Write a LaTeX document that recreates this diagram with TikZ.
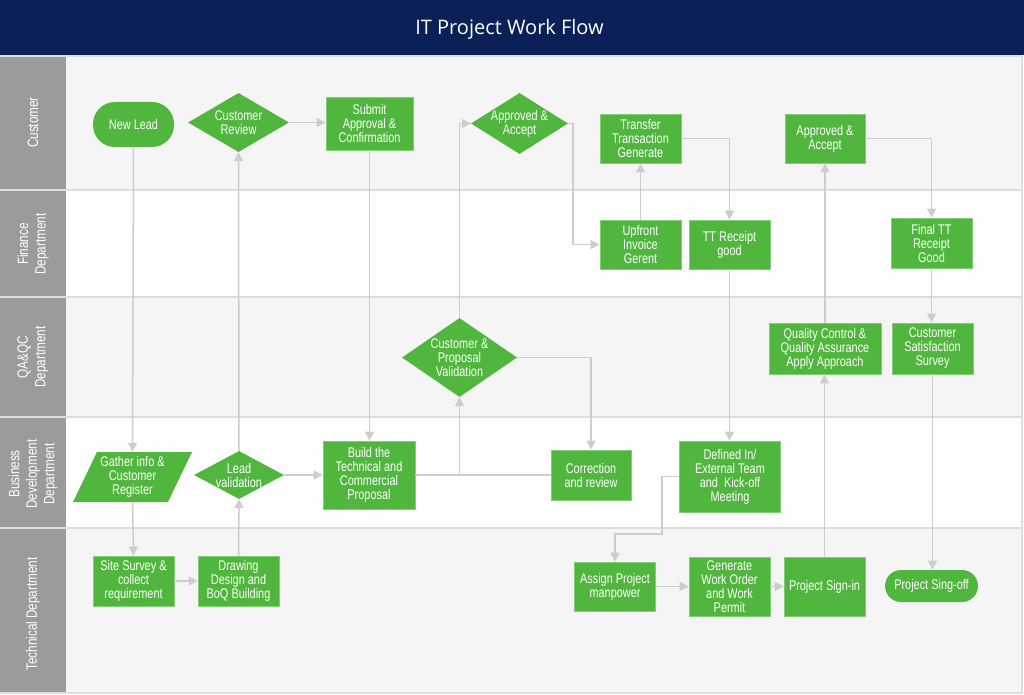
\documentclass[tikz,border=0pt]{standalone}
\usepackage{fontspec}
\setmainfont{Liberation Sans}
\newfontfamily\nodefont[FakeStretch=0.78]{Liberation Sans}
\newfontfamily\titlefont{Open Sans}
\usetikzlibrary{arrows.meta,shapes.geometric,calc}

\definecolor{navy}{RGB}{10,32,87}
\definecolor{flowgreen}{RGB}{80,182,62}
\definecolor{greenedge}{RGB}{130,205,120}
\definecolor{lanegray}{RGB}{155,155,155}
\definecolor{lanebg}{RGB}{245,245,245}
\definecolor{divider}{RGB}{221,221,221}
\definecolor{conn}{RGB}{205,205,205}

\begin{document}
\begin{tikzpicture}[x=1pt,y=-1pt,
  nodetext/.style={text=white, align=center, inner sep=0pt,
    font=\nodefont\fontsize{14}{14}\selectfont},
  box/.style={nodetext, rectangle, fill=flowgreen, draw=greenedge, line width=0.8pt},
  term/.style={box, draw=none, rounded corners=#1},
  dia/.style={diamond, fill=flowgreen, draw=none, inner sep=0pt},
  flow/.style={draw=conn, line width=1.5pt, -{Triangle[length=9pt,width=9pt]}},
  plainline/.style={draw=conn, line width=1.5pt},
  lanelabel/.style={rotate=90, text=white, align=center, inner sep=0pt,
    font=\nodefont\fontsize{15}{17.5}\selectfont},
  divline/.style={draw=divider, line width=2pt}
]
\useasboundingbox (0,0) rectangle (1024,695);
% background
\fill[white] (0,0) rectangle (1024,695);
\fill[navy] (0,0) rectangle (1024,55);
\node[text=white, inner sep=0pt, anchor=base, font=\titlefont\fontsize{20}{24}\selectfont] (title) at (509.5,35) {IT Project Work Flow};
% lanes
\fill[lanebg] (66,56) rectangle (1022,190);
\fill[lanebg] (66,297) rectangle (1022,417);
\fill[lanebg] (66,528) rectangle (1022,693);
\fill[lanegray] (0,56) rectangle (66,693);
\draw[divline] (0,56) -- (1022,56);
\draw[divline] (0,190) -- (1022,190);
\draw[divline] (0,297) -- (1022,297);
\draw[divline] (0,417) -- (1022,417);
\draw[divline] (0,528) -- (1022,528);
\draw[divline] (0,693) -- (1022,693) -- (1022,56);
% lane labels
\node[lanelabel] (l1) at (33,122.5) {Customer};
\node[lanelabel] (l2) at (33,244) {Finance\\Department};
\node[lanelabel] (l3) at (33,357) {QA\&QC\\Department};
\node[lanelabel] (l4) at (33,474) {Business\\Development\\Department};
\node[lanelabel] (l5) at (33,614) {Technical Department};

% Customer lane
\node[term=22pt, minimum width=81pt, minimum height=45pt] (nl) at (133.5,124.5) {New Lead};
\node[dia, minimum width=101pt, minimum height=59pt] (cr) at (238.5,122.5) {};
\node[nodetext] (crT) at (cr) {Customer\\Review};
\node[box, minimum width=87pt, minimum height=53pt] (sa) at (369.5,123.5) {Submit\\Approval \&\\Confirmation};
\node[dia, minimum width=97pt, minimum height=61pt] (aa) at (519.5,123.5) {};
\node[nodetext] (aaT) at (aa) {Approved \&\\Accept};
\node[box, minimum width=81pt, minimum height=49pt] (tt) at (640.5,138.5) {Transfer\\Transaction\\Generate};
\node[box, minimum width=80pt, minimum height=49pt] (ap) at (825,138.5) {Approved \&\\Accept};

% Finance lane
\node[box, minimum width=81pt, minimum height=49pt] (ui) at (640.5,244.5) {Upfront\\Invoice\\Gerent};
\node[box, minimum width=81pt, minimum height=49pt] (tr) at (729.5,244.5) {TT Receipt\\good};
\node[box, minimum width=81pt, minimum height=50pt] (ft) at (931.5,243) {Final TT\\Receipt\\Good};

% QA lane
\node[dia, minimum width=115pt, minimum height=79pt] (cpv) at (459.5,357.5) {};
\node[nodetext] (cpvT) at (cpv) {Customer \&\\Proposal\\Validation};
\node[box, minimum width=112pt, minimum height=51pt] (qc) at (825,348.5) {Quality Control \&\\Quality Assurance\\Apply Approach};
\node[box, minimum width=81pt, minimum height=51pt] (cs) at (932.5,348.5) {Customer\\Satisfaction\\Survey};

% BD lane
\fill[flowgreen] (97,452) -- (192,452) -- (168,502) -- (73,502) -- cycle;
\node[nodetext, minimum width=119pt, minimum height=50pt] (gi) at (132.5,477) {Gather info \&\\Customer\\Register};
\node[dia, minimum width=90pt, minimum height=48pt] (lv) at (239,475) {};
\node[nodetext] (lvT) at (lv) {Lead\\validation};
\node[box, minimum width=92pt, minimum height=68pt] (bp) at (369,475) {Build the\\Technical and\\Commercial\\Proposal};
\node[box, minimum width=80pt, minimum height=50pt] (co) at (591,475) {Correction\\and review};
\node[box, minimum width=101pt, minimum height=71pt] (de) at (730,476.5) {Defined In/\\External Team\\and~ Kick-off\\Meeting};

% Technical lane
\node[box, minimum width=81pt, minimum height=50pt] (ss) at (133.5,581) {Site Survey \&\\collect\\requirement};
\node[box, minimum width=81pt, minimum height=50pt] (dd) at (238.5,581) {Drawing\\Design and\\BoQ Building};
\node[box, minimum width=81pt, minimum height=49pt] (as) at (615,586.5) {Assign Project\\manpower};
\node[box, minimum width=81pt, minimum height=59pt] (gw) at (729.5,586.5) {Generate\\Work Order\\and Work\\Permit};
\node[box, minimum width=81pt, minimum height=59pt] (si) at (824.5,586.5) {Project Sign-in};
\node[term=16pt, minimum width=93pt, minimum height=32pt] (so) at (931.5,586) {Project Sing-off};

% connectors
\draw[flow] (nl.south) -- (gi.north);
\draw[flow] (gi.south) -- (ss.north);
\draw[flow] (ss.east) -- (dd.west);
\draw[flow] (dd.north) -- (lv.south);
\draw[flow] (lv.north) -- (cr.south);
\draw[flow] (cr.east) -- (cr.east -| sa.west);
\draw[flow] (sa.south) -- (sa.south |- bp.north);
\draw[flow] (lv.east) -- (bp.west);
\draw[plainline] (co.west) -- (bp.east);
\draw[flow] (bp.east) -| (cpv.south);
\draw[flow] (cpv.east) -| (co.north);
\draw[flow] (cpv.north) |- (aa.west);
\draw[flow] (aa.east) -- ++(5,0) |- (ui.west);
\draw[flow] (ui.north) -- (tt.south);
\draw[flow] (tt.east) -| (tr.north);
\draw[flow] (tr.south) -- (tr.south |- de.north);
\draw[flow] (de.west) -- ++(-17,0) -- ++(0,57.5) -| (as.north);
\draw[flow] (as.east) -- (gw.west);
\draw[flow] (gw.east) -- (si.west);
\draw[flow] (si.north) -- (si.north |- qc.south);
\draw[flow] (qc.north) -- (ap.south);
\draw[flow] (ap.east) -| (ft.north);
\draw[flow] (ft.south) -- (ft.south |- cs.north);
\draw[flow] (cs.south) -- (cs.south |- so.north);
\end{tikzpicture}
\end{document}
